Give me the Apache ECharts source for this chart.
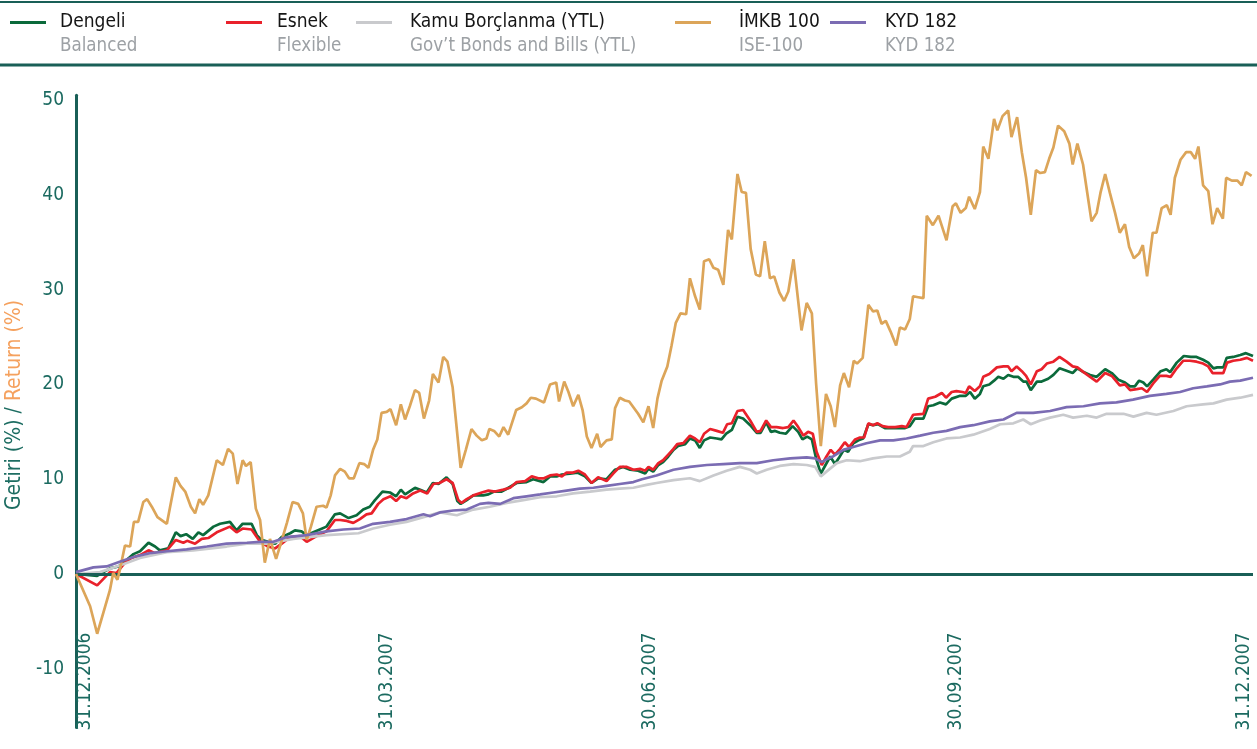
<!DOCTYPE html>
<html><head><meta charset="utf-8">
<script src="https://cdn.jsdelivr.net/npm/echarts@6/dist/echarts.min.js"></script>
<style>html,body{margin:0;padding:0;background:#fff}#c{width:1257px;height:749px}</style>
</head><body><div id="c"></div>
<script>
const seriesNames = ['Dengeli', 'Esnek', 'Kamu Borçlanma (YTL)', 'İMKB 100', 'KYD 182'];
const seriesSubs = ['Balanced', 'Flexible', 'Gov’t Bonds and Bills (YTL)', 'ISE-100', 'KYD 182'];
const xTickPos = [2, 66, 122, 187, 248];
const xTickLabels = ['31.12.2006', '31.03.2007', '30.06.2007', '30.09.2007', '31.12.2007'];
const yTicks = [-10, 0, 10, 20, 30, 40, 50];

// [trading-day index, return %]
const dengeli = [[0,0],[2.3,-0.1],[4.5,-0.2],[7.2,0.6],[9.0,0.8],[10.8,1.5],[12.2,2.1],[13.6,2.4],[15.4,3.3],[16.8,2.9],[17.8,2.5],[19.6,2.7],[21.2,4.4],[22.2,4.0],[23.4,4.2],[24.8,3.7],[26.0,4.4],[27.0,4.1],[29.2,5.0],[30.6,5.3],[32.7,5.5],[34.1,4.6],[35.4,5.3],[37.3,5.3],[38.4,4.1],[39.4,3.6],[40.8,3.4],[42.3,3.2],[43.7,3.9],[45.5,4.3],[46.5,4.6],[47.9,4.5],[49.0,4.1],[50.4,4.4],[51.8,4.7],[53.2,5.0],[55.0,6.3],[56.1,6.4],[57.9,5.9],[59.6,6.2],[61.0,6.8],[62.4,7.1],[63.5,7.8],[65.1,8.7],[66.7,8.6],[68.0,8.2],[69.0,8.9],[69.9,8.4],[72.0,9.1],[73.1,8.9],[74.5,8.6],[75.8,9.6],[77.0,9.5],[78.7,10.2],[80.0,9.5],[81.0,7.7],[81.7,7.4],[83.0,7.8],[84.4,8.3],[86.5,8.3],[87.6,8.4],[88.8,8.7],[90.4,8.7],[91.5,9.0],[93.6,9.6],[95.7,9.7],[97.1,10.0],[99.3,9.7],[100.7,10.3],[102.1,10.3],[103.2,10.5],[104.9,10.6],[106.5,10.7],[108.1,10.3],[109.5,9.6],[110.9,10.1],[112.7,10.0],[114.5,11.0],[116.2,11.3],[117.7,11.0],[119.4,10.9],[120.9,10.6],[121.6,11.1],[122.6,10.8],[123.7,11.5],[124.7,11.8],[125.8,12.4],[126.9,13.1],[127.9,13.5],[129.4,13.7],[130.4,14.3],[131.5,14.1],[132.5,13.3],[133.4,14.1],[134.7,14.4],[136.1,14.3],[137.1,14.2],[138.1,14.8],[139.3,15.2],[140.5,16.6],[141.7,16.4],[143.2,15.7],[144.6,14.9],[145.4,14.9],[146.6,16.0],[147.6,15.0],[148.5,15.1],[149.5,14.9],[150.8,14.8],[152.2,15.6],[153.4,15.0],[154.3,14.2],[155.3,14.5],[156.3,14.2],[157.2,12.2],[158.2,10.6],[159.2,11.5],[160.2,12.4],[161.2,11.6],[162.1,12.3],[163.1,13.1],[164.0,12.9],[165.1,13.8],[166.2,14.1],[167.2,14.3],[168.3,15.8],[169.3,15.7],[170.4,15.8],[171.8,15.4],[173.3,15.4],[174.7,15.4],[176.1,15.4],[177.1,15.6],[178.2,16.4],[180.0,16.4],[181.0,17.7],[182.1,17.8],[183.5,18.1],[184.8,17.9],[186.0,18.5],[187.8,18.8],[189.0,18.8],[189.9,19.2],[190.9,18.5],[192.0,19.0],[192.7,19.8],[194.0,20.0],[195.0,20.4],[195.9,20.8],[197.0,20.6],[198.0,21.0],[199.1,20.8],[200.1,20.8],[201.2,20.3],[201.9,20.3],[202.8,19.4],[204.1,20.3],[205.1,20.3],[206.5,20.6],[207.6,21.0],[208.9,21.7],[210.1,21.5],[211.7,21.2],[212.7,21.7],[214.0,21.3],[215.4,21.0],[216.8,20.8],[218.6,21.6],[220.0,21.2],[221.4,20.5],[222.8,20.2],[223.9,19.8],[224.9,19.8],[225.8,20.4],[226.7,20.2],[227.5,19.8],[228.8,20.5],[230.4,21.4],[231.6,21.6],[232.4,21.3],[233.8,22.3],[235.3,23.0],[236.8,22.9],[238.0,22.9],[239.4,22.6],[240.5,22.3],[241.6,21.7],[242.4,21.8],[243.7,21.8],[244.4,22.8],[245.8,22.9],[247.3,23.1],[248.5,23.3],[250,23.0]];

const esnek = [[0,0],[4.5,-1.2],[7.2,0.2],[8.6,0.1],[10.4,1.2],[11.8,1.7],[13.6,2.0],[15.4,2.5],[16.8,2.2],[19.3,2.5],[21.2,3.6],[22.8,3.3],[23.6,3.5],[25.3,3.2],[26.7,3.7],[28.1,3.8],[29.9,4.4],[32.7,5.0],[34.1,4.4],[35.4,4.8],[37.3,4.7],[39.1,3.4],[40.8,2.9],[42.3,2.7],[43.7,3.2],[45.5,3.9],[47.6,4.0],[49.0,3.4],[51.1,4.0],[53.2,4.5],[55.0,5.7],[56.1,5.7],[57.5,5.6],[58.9,5.4],[60.3,5.8],[61.7,6.3],[62.8,6.4],[64.2,7.4],[65.3,7.9],[66.8,8.2],[68.0,7.7],[69.0,8.2],[70.2,8.0],[71.6,8.5],[73.1,8.8],[74.6,8.5],[75.9,9.5],[77.2,9.6],[78.7,10.0],[80.0,9.6],[81.2,7.8],[81.9,7.5],[83.0,7.9],[84.4,8.3],[86.2,8.6],[87.6,8.8],[89.0,8.7],[90.8,8.9],[92.2,9.1],[93.6,9.7],[95.4,9.8],[96.8,10.3],[98.2,10.1],[99.4,10.1],[100.7,10.4],[102.1,10.5],[103.2,10.3],[104.2,10.7],[105.6,10.7],[106.7,10.9],[108.1,10.5],[109.5,9.6],[110.9,10.2],[112.7,9.8],[114.1,10.6],[115.5,11.3],[117.0,11.3],[118.4,11.0],[119.8,11.1],[120.9,10.9],[121.6,11.3],[122.6,11.0],[123.7,11.7],[124.7,12.0],[125.8,12.6],[126.9,13.2],[127.7,13.7],[129.0,13.8],[130.4,14.6],[131.5,14.3],[132.5,13.9],[133.4,14.8],[134.7,15.3],[136.1,15.1],[137.4,14.9],[138.3,15.8],[139.3,15.9],[140.5,17.2],[141.7,17.3],[143.2,16.2],[144.6,15.0],[145.4,15.1],[146.6,16.2],[147.6,15.5],[148.8,15.5],[150.2,15.4],[151.3,15.5],[152.4,16.2],[153.4,15.5],[154.5,14.6],[155.5,15.0],[156.5,14.8],[157.3,12.9],[158.4,11.5],[159.4,12.4],[160.3,13.1],[161.2,12.6],[162.3,13.2],[163.3,13.9],[164.2,13.4],[165.5,14.2],[166.5,14.4],[167.4,14.4],[168.3,15.9],[169.3,15.7],[170.2,15.9],[171.3,15.6],[172.5,15.5],[174.0,15.5],[175.4,15.6],[176.4,15.5],[177.8,16.8],[180.0,16.9],[181.0,18.5],[182.5,18.7],[183.9,19.1],[184.8,18.6],[186.0,19.2],[187.0,19.3],[188.3,19.2],[189.0,19.1],[189.7,19.8],[190.9,19.3],[192.0,19.8],[192.7,20.8],[194.0,21.1],[195.6,21.8],[197.0,21.9],[198.0,21.9],[198.7,21.4],[199.8,21.9],[200.9,21.4],[201.8,20.9],[202.8,20.0],[204.1,21.4],[205.1,21.6],[206.2,22.2],[207.6,22.4],[208.9,22.9],[210.4,22.4],[211.7,21.9],[212.7,21.8],[214.0,21.3],[215.4,20.8],[216.8,20.3],[218.6,21.2],[220.0,20.9],[221.7,19.9],[222.8,20.0],[223.9,19.4],[225.3,19.5],[226.4,19.6],[227.5,19.2],[228.8,20.1],[230.2,20.9],[231.6,20.9],[232.5,20.8],[233.8,21.7],[235.2,22.5],[236.6,22.5],[238.0,22.4],[239.4,22.2],[240.5,21.9],[241.4,21.2],[242.6,21.2],[243.7,21.2],[244.5,22.3],[245.8,22.5],[247.3,22.6],[248.7,22.8],[250,22.5]];

const kamu = [[0,0],[5.1,0.2],[9.3,0.9],[13.6,1.7],[19.3,2.3],[24.9,2.5],[32.0,2.9],[36.3,3.2],[40.5,3.2],[46.2,3.7],[53.2,4.1],[60.0,4.3],[63.1,4.8],[66.7,5.2],[70.2,5.5],[73.8,6.0],[77.3,6.5],[80.9,6.2],[84.4,6.8],[87.9,7.1],[91.5,7.5],[95.0,7.8],[98.6,8.1],[102.1,8.2],[105.6,8.5],[109.2,8.7],[112.7,8.9],[115.5,9.0],[118.4,9.1],[121.2,9.4],[123.3,9.6],[126.9,9.9],[130.4,10.1],[132.5,9.8],[135.4,10.4],[138.2,10.9],[141.0,11.3],[143.2,11.0],[144.6,10.6],[146.7,11.0],[149.5,11.4],[152.4,11.6],[155.2,11.5],[157.0,11.3],[158.2,10.3],[159.4,10.8],[161.6,11.7],[163.7,12.0],[166.5,11.9],[169.3,12.2],[172.2,12.4],[175.0,12.4],[177.1,12.9],[177.8,13.5],[180.0,13.5],[182.1,13.9],[184.9,14.3],[187.8,14.4],[190.6,14.7],[194.1,15.3],[196.3,15.8],[199.1,15.9],[201.2,16.3],[202.8,15.8],[204.8,16.2],[206.9,16.5],[209.7,16.8],[211.8,16.5],[214.7,16.7],[216.8,16.5],[218.9,16.9],[222.5,16.9],[224.6,16.6],[227.4,17.0],[229.5,16.8],[233.1,17.2],[235.9,17.7],[239.4,17.9],[241.6,18.0],[244.4,18.4],[247.3,18.6],[250,18.9]];

const imkb = [[0,0],[3.0,-3.4],[4.5,-6.3],[5.8,-4.1],[7.2,-1.7],[7.9,0.1],[8.8,-0.6],[9.3,0.4],[10.4,3.0],[11.5,2.9],[12.3,5.5],[13.2,5.5],[14.3,7.6],[15.1,7.9],[16.1,7.1],[17.3,6.0],[19.3,5.3],[21.2,10.2],[22.2,9.3],[23.2,8.7],[24.4,7.1],[25.3,6.4],[26.2,7.9],[27.0,7.3],[28.1,8.3],[29.9,12.0],[31.2,11.5],[32.3,13.2],[33.3,12.7],[34.3,9.5],[35.4,12.0],[36.1,11.4],[37.1,11.8],[38.2,6.9],[39.1,5.7],[40.1,1.2],[41.2,3.7],[42.5,1.6],[43.5,3.2],[44.8,5.4],[46.0,7.6],[47.2,7.4],[48.2,6.4],[49.0,3.6],[49.9,5.0],[51.1,7.1],[52.5,7.2],[53.2,7.0],[54.1,8.3],[55.0,10.4],[56.1,11.1],[57.1,10.8],[58.0,10.1],[59.0,10.1],[60.2,11.7],[61.2,11.6],[62.1,11.2],[63.1,13.1],[64.0,14.2],[64.9,17.0],[66.0,17.1],[66.8,17.4],[68.0,15.7],[69.0,17.9],[69.9,16.3],[70.9,17.7],[72.0,19.4],[72.9,19.1],[73.9,16.4],[75.0,18.3],[75.8,21.1],[77.0,20.2],[78.0,22.9],[78.9,22.4],[80.0,19.7],[81.7,11.2],[82.8,13.1],[84.0,15.3],[85.1,14.6],[86.2,14.1],[87.2,14.3],[87.8,15.3],[88.8,15.1],[89.9,14.5],[90.8,15.5],[91.8,14.7],[93.5,17.3],[94.7,17.6],[95.7,18.0],[96.6,18.6],[97.7,18.5],[99.4,18.1],[100.7,20.0],[102.0,20.2],[102.6,18.2],[103.7,20.3],[104.6,19.2],[105.6,17.7],[106.7,18.9],[107.6,17.3],[108.5,14.5],[109.5,13.3],[110.7,14.8],[111.4,13.4],[112.7,14.1],[113.8,14.2],[114.5,17.5],[115.5,18.6],[116.6,18.3],[117.5,18.2],[119.4,16.9],[120.5,16.0],[121.6,17.7],[122.6,15.4],[123.5,18.5],[124.4,20.4],[125.6,21.9],[126.5,24.1],[127.4,26.5],[128.4,27.5],[129.6,27.4],[130.4,31.2],[131.5,29.3],[132.5,27.9],[133.4,33.0],[134.5,33.2],[135.4,32.3],[136.4,32.1],[137.5,30.5],[138.5,36.3],[139.3,35.3],[140.5,42.2],[141.4,40.3],[142.3,40.2],[143.3,34.3],[144.4,31.6],[145.3,31.4],[146.3,35.1],[147.4,31.2],[148.3,31.4],[149.4,29.7],[150.4,28.8],[151.3,29.8],[152.4,33.2],[154.1,25.7],[155.2,28.6],[156.3,27.5],[157.2,20.1],[158.2,13.5],[159.3,19.0],[160.3,17.7],[161.2,15.5],[162.3,19.9],[163.1,21.2],[164.2,19.7],[165.2,22.5],[165.9,22.2],[167.1,22.8],[168.3,28.4],[169.3,27.7],[170.2,27.8],[171.1,26.4],[172.0,26.7],[173.0,25.6],[174.2,24.1],[175.0,26.0],[176.1,25.8],[177.1,26.9],[177.8,29.3],[178.9,29.2],[180.0,29.1],[180.7,37.8],[182.0,36.8],[183.2,37.8],[184.9,35.2],[186.2,38.8],[186.9,39.1],[187.9,38.1],[189.0,38.6],[189.7,39.8],[190.9,38.5],[192.0,40.3],[192.7,45.1],[193.8,43.8],[195.0,48.0],[195.7,46.8],[196.8,48.3],[198.0,48.9],[198.7,46.1],[199.9,48.2],[200.9,44.5],[201.8,41.8],[202.8,37.9],[203.9,42.6],[204.8,42.3],[205.8,42.4],[206.7,43.8],[207.6,45.0],[208.6,47.3],[209.9,46.7],[211.0,45.4],[211.7,43.2],[212.7,45.4],[213.9,43.2],[214.8,40.2],[215.7,37.2],[216.8,38.1],[217.6,40.2],[218.6,42.2],[219.6,40.2],[220.7,38.1],[221.7,36.0],[222.8,36.9],[223.7,34.5],[224.7,33.3],[225.8,33.8],[226.6,34.7],[227.5,31.4],[228.7,36.0],[229.5,36.0],[230.6,38.6],[231.7,38.9],[232.5,37.9],[233.4,41.8],[234.6,43.7],[235.8,44.5],[236.8,44.5],[237.7,43.8],[238.4,45.1],[239.4,41.0],[240.5,40.4],[241.4,36.9],[242.4,38.6],[243.6,37.5],[244.3,41.8],[245.5,41.5],[246.7,41.5],[247.6,41.0],[248.5,42.4],[249.7,42.0]];

const kyd = [[0,0.2],[3.7,0.7],[6.5,0.8],[9.3,1.3],[12.2,1.8],[15.7,2.2],[19.3,2.4],[23.5,2.6],[27.8,2.9],[32.0,3.2],[36.3,3.3],[39.1,3.4],[41.9,3.4],[44.8,3.9],[49.0,4.1],[53.2,4.5],[56.8,4.7],[60.3,4.8],[63.1,5.3],[66.7,5.5],[70.2,5.8],[73.8,6.3],[75.2,6.1],[77.3,6.5],[80.1,6.7],[83.0,6.8],[85.8,7.4],[87.6,7.5],[90.1,7.4],[92.9,8.0],[95.7,8.2],[98.6,8.4],[101.4,8.6],[104.2,8.8],[107.0,9.0],[109.9,9.1],[112.7,9.3],[115.5,9.5],[118.4,9.7],[120.2,10.0],[123.3,10.4],[126.9,11.0],[130.4,11.3],[134.0,11.5],[137.5,11.6],[141.0,11.7],[144.6,11.7],[148.1,12.0],[151.7,12.2],[155.2,12.3],[157.0,12.2],[158.4,11.8],[159.4,12.1],[160.8,12.4],[163.0,13.1],[165.1,13.4],[167.9,13.8],[170.8,14.1],[173.6,14.1],[176.4,14.3],[179.3,14.6],[182.1,14.9],[184.9,15.1],[187.8,15.5],[190.6,15.7],[194.1,16.1],[197.0,16.3],[199.8,17.0],[203.3,17.0],[206.9,17.2],[210.4,17.6],[214.0,17.7],[217.5,18.0],[221.0,18.1],[224.5,18.4],[228.1,18.8],[231.6,19.0],[234.5,19.2],[237.3,19.6],[240.2,19.8],[243.0,20.0],[245.1,20.3],[247.3,20.4],[250,20.7]];

const seriesData = [dengeli, esnek, kamu, imkb, kyd];
const seriesColors = ['#0b6a3b', '#e9212b', '#c9cacd', '#dca559', '#7b6cb3'];
const legendLeft = [10, 226, 356, 675, 830];
const legendPad = [9, 10, 13, 23, 14];

const FONT = "'DejaVu Sans Condensed', 'DejaVu Sans', sans-serif";
const TEAL = '#195f57';
const LABEL = '#1b6a60';

const chart = echarts.init(document.getElementById('c'), null, {renderer: 'canvas'});
chart.setOption({
  animation: false,
  backgroundColor: '#ffffff',
  textStyle: {fontFamily: FONT},
  graphic: [
    {type: 'rect', silent: true, shape: {x: 0, y: 1, width: 1257, height: 2}, style: {fill: TEAL}},
    {type: 'rect', silent: true, shape: {x: 0, y: 63.5, width: 1257, height: 3}, style: {fill: TEAL}}
  ],
  legend: seriesNames.map((n, i) => ({
    data: [n],
    left: legendLeft[i],
    top: 13,
    padding: 0,
    icon: 'rect',
    itemWidth: 36,
    itemHeight: 3,
    selectedMode: false,
    formatter: name => '{t|' + name + '}\n{s|' + seriesSubs[seriesNames.indexOf(name)] + '}',
    textStyle: {
      padding: [24, 0, 0, legendPad[i]],
      rich: {
        t: {fontSize: 19, color: '#151515', lineHeight: 24, fontFamily: FONT},
        s: {fontSize: 18.6, color: '#9da1a5', lineHeight: 24, fontFamily: FONT}
      }
    }
  })),
  grid: {left: 76, right: 4, top: 95.3, bottom: 21.4, containLabel: false, outerBoundsMode: 'none'},
  xAxis: {
    type: 'value', min: 0, max: 250,
    axisLine: {show: false, onZero: false},
    axisTick: {show: false},
    splitLine: {show: false},
    axisLabel: {
      customValues: xTickPos,
      rotate: 90, margin: -95,
      color: LABEL, fontSize: 19, fontFamily: FONT,
      formatter: v => xTickLabels[xTickPos.indexOf(v)] || ''
    }
  },
  yAxis: {
    type: 'value', min: -16.2, max: 50.5,
    axisLine: {show: true, lineStyle: {color: TEAL, width: 3}},
    axisTick: {show: false},
    splitLine: {show: false},
    axisLabel: {
      customValues: yTicks,
      color: LABEL, fontSize: 19, fontFamily: FONT, margin: 12,
      formatter: v => String(v)
    },
    name: '{a|Getiri (%) / }{b|Return (%)}',
    nameLocation: 'middle', nameRotate: 90, nameGap: 51,
    nameTextStyle: {
      padding: [0, 0, 0, 13],
      rich: {
        a: {color: '#1d6d62', fontSize: 21, fontFamily: FONT},
        b: {color: '#f5a15e', fontSize: 21, fontFamily: FONT}
      }
    }
  },
  series: seriesNames.map((n, i) => ({
    name: n, type: 'line', data: seriesData[i],
    color: seriesColors[i],
    showSymbol: false, symbol: 'none',
    lineStyle: {color: seriesColors[i], width: 2.7},
    emphasis: {disabled: true},
    z: 2 + i,
    markLine: i === 0 ? {
      silent: true, symbol: 'none', label: {show: false},
      lineStyle: {color: TEAL, width: 3, type: 'solid'},
      data: [{yAxis: 0}]
    } : undefined
  }))
});
</script></body></html>
